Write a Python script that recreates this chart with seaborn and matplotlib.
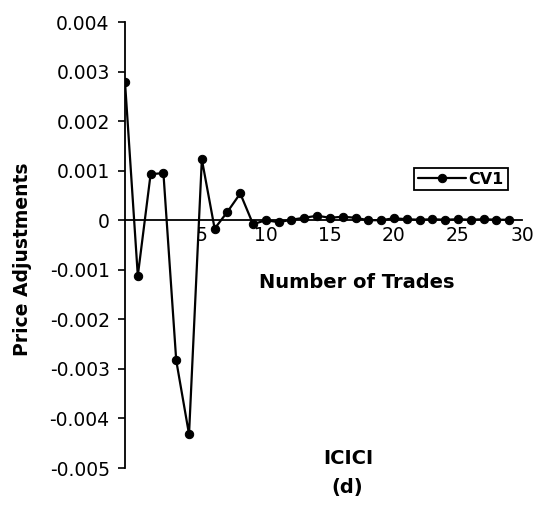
import matplotlib
matplotlib.use("Agg")
import matplotlib.pyplot as plt
import seaborn as sns
import pandas as pd

# Data
trades = list(range(0, 31))
cv1 = [0.00279, -0.00112, 0.00093, 0.00095, -0.00283, -0.00432, 0.00123, -0.00017,
       0.00017, 0.00054, -0.00008, 0.00000, -0.00004, 0.00001, 0.00005, 0.00009,
       0.00005, 0.00007, 0.00005, 0.00000, 0.00000, 0.00004, 0.00002, 0.00001,
       0.00002, 0.00001, 0.00002, 0.00001, 0.00002, 0.00001, 0.00001]
series_name = "CV1"
ytick_vals = [0.004, 0.003, 0.002, 0.001, 0, -0.001, -0.002, -0.003, -0.004, -0.005]
ytick_labels = ["0.004", "0.003", "0.002", "0.001", "0", "-0.001", "-0.002", "-0.003", "-0.004", "-0.005"]
xtick_vals = [5, 10, 15, 20, 25, 30]
xtick_labels = ["5", "10", "15", "20", "25", "30"]
x_label = "Number of Trades"
y_label = "Price Adjustments"
title1 = "ICICI"
title2 = "(d)"

df = pd.DataFrame({"trade": trades, "value": cv1, "series": series_name})

sns.set_theme(style="white")
plt.rcParams["font.family"] = ["DejaVu Sans"]
plt.rcParams["text.color"] = "black"

W, H = 537, 505
fig = plt.figure(figsize=(W / 100, H / 100), dpi=100)
ax = fig.add_axes([125 / W, 1 - 468 / H, 397 / W, 446 / H])

sns.lineplot(data=df, x="trade", y="value", hue="series", palette=["black"],
             marker="o", markersize=6, markeredgecolor="black", linewidth=1.6,
             ax=ax, legend=True)

ax.set_xlim(0, 30.3)
ax.set_ylim(-0.005, 0.004)

ax.spines["top"].set_visible(False)
ax.spines["right"].set_visible(False)
ax.spines["bottom"].set_position(("data", 0))
for s in ("left", "bottom"):
    ax.spines[s].set_color("black")
    ax.spines[s].set_linewidth(1.3)

ax.set_yticks(ytick_vals)
ax.set_yticklabels(ytick_labels)
ax.set_xticks([v + 1.0 for v in xtick_vals])
ax.set_xticklabels(xtick_labels)
ax.tick_params(axis="y", direction="out", length=5, width=1.2, color="black",
               left=True, pad=6, labelsize=13.5, labelcolor="black")
ax.tick_params(axis="x", length=0, pad=4, labelsize=13.5, labelcolor="black")
ax.set_xlabel("")
ax.set_ylabel("")
ax.grid(False)

fig.text(357 / W, 1 - 283 / H, x_label, ha="center", va="center",
         fontsize=14, fontweight="bold", color="black")
fig.text(23 / W, 1 - 259 / H, y_label, ha="center", va="center",
         rotation=90, fontsize=13.5, fontweight="bold", color="black")
fig.text(348 / W, 1 - 458 / H, title1, ha="center", va="center",
         fontsize=14, fontweight="bold", color="black")
fig.text(347 / W, 1 - 488 / H, title2, ha="center", va="center",
         fontsize=14, fontweight="bold", color="black")

leg = ax.legend(loc="center", bbox_to_anchor=(461 / W, 1 - 179 / H),
                bbox_transform=fig.transFigure, frameon=True, fancybox=False,
                edgecolor="black", framealpha=1, handlelength=3.0,
                borderpad=0.25, handletextpad=0.15,
                prop={"weight": "bold", "size": 11.5})
leg.get_frame().set_linewidth(1.3)
for t in leg.get_texts():
    t.set_color("black")

fig.savefig("out.png", dpi=100, facecolor="white")
